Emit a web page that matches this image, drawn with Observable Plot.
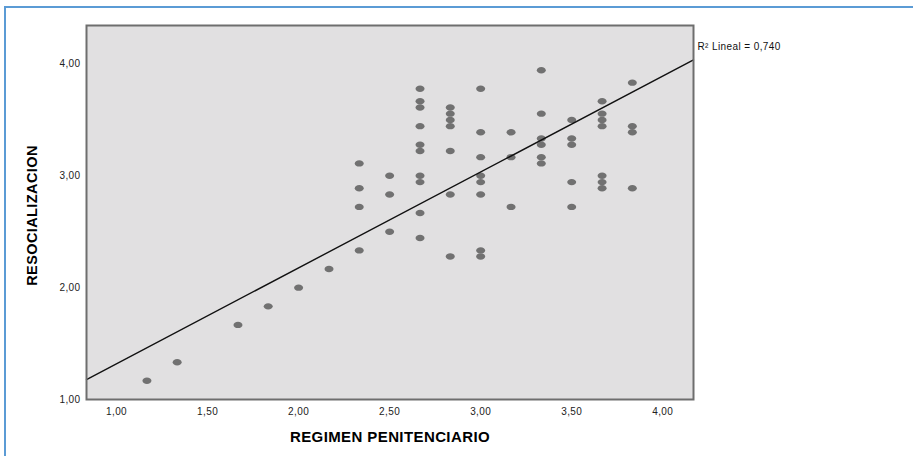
<!DOCTYPE html>
<html>
<head>
<meta charset="utf-8">
<script src="https://cdn.jsdelivr.net/npm/d3@7"></script>
<script src="https://cdn.jsdelivr.net/npm/@observablehq/plot@0.6"></script>
<style>
  html, body { margin: 0; padding: 0; background: #fff; }
  #wrap { position: relative; width: 913px; height: 456px; overflow: hidden; background: #fff; }
  #title { position: absolute; left: 37px; top: -21px; font: bold 18.6px "Liberation Serif", "Times New Roman", serif; line-height: 19px; color: #000; white-space: nowrap; }
  #box { position: absolute; left: 4px; top: 6px; width: 920px; height: 460px; border-left: 2px solid #5b9bd5; border-top: 2px solid #5b9bd5; background: #fff; }
  #chart { position: absolute; left: 0; top: 0; }
  #chart svg text { letter-spacing: 0.4px; }
</style>
</head>
<body>
<div id="wrap">
  <div id="title">Figura 5. Gráfico de dispersión</div>
  <div id="box"></div>
  <div id="chart"></div>
</div>
<script>
// Values
const regimen = [
  1.167, 1.333, 1.667, 1.833, 2.000, 2.167,
  2.333, 2.333, 2.333, 2.333,
  2.500, 2.500, 2.500,
  2.667, 2.667, 2.667, 2.667, 2.667, 2.667, 2.667, 2.667, 2.667, 2.667,
  2.833, 2.833, 2.833, 2.833, 2.833, 2.833, 2.833,
  3.000, 3.000, 3.000, 3.000, 3.000, 3.000, 3.000, 3.000,
  3.167, 3.167, 3.167,
  3.333, 3.333, 3.333, 3.333, 3.333, 3.333,
  3.500, 3.500, 3.500, 3.500, 3.500,
  3.667, 3.667, 3.667, 3.667, 3.667, 3.667, 3.667,
  3.833, 3.833, 3.833, 3.833
];
const resocializacion = [
  1.167, 1.333, 1.667, 1.833, 2.000, 2.167,
  3.111, 2.889, 2.722, 2.333,
  3.000, 2.833, 2.500,
  3.778, 3.667, 3.611, 3.444, 3.278, 3.222, 3.000, 2.944, 2.667, 2.444,
  3.611, 3.556, 3.500, 3.444, 3.222, 2.833, 2.278,
  3.778, 3.389, 3.167, 3.000, 2.944, 2.833, 2.333, 2.278,
  3.389, 3.167, 2.722,
  3.944, 3.556, 3.333, 3.278, 3.167, 3.111,
  3.500, 3.333, 3.278, 2.944, 2.722,
  3.667, 3.556, 3.500, 3.444, 3.000, 2.944, 2.889,
  3.833, 3.444, 3.389, 2.889
];
// Linear fit line as drawn in the reference (intercept, slope)
const fitIntercept = 0.463;
const fitSlope = 0.857;
const r2Label = ["R\u00B2 Lineal = 0,740"];
const xTicks = [1.0, 1.5, 2.0, 2.5, 3.0, 3.5, 4.0];
const yTicks = [1.0, 2.0, 3.0, 4.0];
const xDomain = [0.835, 4.169];
const yDomain = [1.0, 4.344];
const xTitle = ["REGIMEN PENITENCIARIO"];
const yTitle = ["RESOCIALIZACION"];

const points = regimen.map((x, i) => ({x, y: resocializacion[i]}));
const fitLine = xDomain.map(x => ({x, y: fitIntercept + fitSlope * x}));

const fmt = v => d3.format(".2f")(v).replace(".", ",");

const ellipse = {
  draw(ctx) {
    const rx = 4.5, ry = 3.2, k = 0.5523, kx = rx * k, ky = ry * k;
    ctx.moveTo(rx, 0);
    ctx.bezierCurveTo(rx, ky, kx, ry, 0, ry);
    ctx.bezierCurveTo(-kx, ry, -rx, ky, -rx, 0);
    ctx.bezierCurveTo(-rx, -ky, -kx, -ry, 0, -ry);
    ctx.bezierCurveTo(kx, -ry, rx, -ky, rx, 0);
    ctx.closePath();
  }
};

const chart = Plot.plot({
  width: 913,
  height: 456,
  marginLeft: 86,
  marginRight: 220,
  marginTop: 25,
  marginBottom: 57,
  style: {fontFamily: "'Liberation Sans', Arial, sans-serif", fontSize: "10px", color: "#222", background: "transparent", overflow: "visible"},
  x: {domain: xDomain, ticks: xTicks, tickFormat: fmt, tickSize: 0, tickPadding: 8, label: null},
  y: {domain: yDomain, ticks: yTicks, tickFormat: fmt, tickSize: 0, tickPadding: 6, label: null},
  marks: [
    Plot.frame({fill: "#e1e0e1", stroke: "none"}),
    Plot.dot(points, {x: "x", y: "y", symbol: ellipse, fill: "#717171", stroke: "none"}),
    Plot.line(fitLine, {x: "x", y: "y", stroke: "#111", strokeWidth: 1.4}),
    Plot.frame({stroke: "#6e6e6e", strokeWidth: 2}),
    Plot.text(r2Label, {frameAnchor: "top-right", dx: 4, dy: 21, textAnchor: "start", lineAnchor: "middle", fontSize: 10, fill: "#111", ariaLabel: "r2"}),
    Plot.text(xTitle, {frameAnchor: "bottom", dy: 38, textAnchor: "middle", lineAnchor: "middle", fontSize: 15, fontWeight: "bold", fill: "#000", ariaLabel: "xtitle"}),
    Plot.text(yTitle, {frameAnchor: "left", dx: -54, dy: 3, rotate: -90, textAnchor: "middle", lineAnchor: "middle", fontSize: 14.5, fontWeight: "bold", fill: "#000", ariaLabel: "ytitle"})
  ]
});

const xt = chart.querySelector('g[aria-label="xtitle"] text');
if (xt) { xt.setAttribute("textLength", 220); xt.setAttribute("lengthAdjust", "spacingAndGlyphs"); }
const rt = chart.querySelector('g[aria-label="r2"] text');
if (rt) { rt.setAttribute("textLength", 87); rt.setAttribute("lengthAdjust", "spacingAndGlyphs"); }

document.getElementById("chart").appendChild(chart);
</script>
</body>
</html>
